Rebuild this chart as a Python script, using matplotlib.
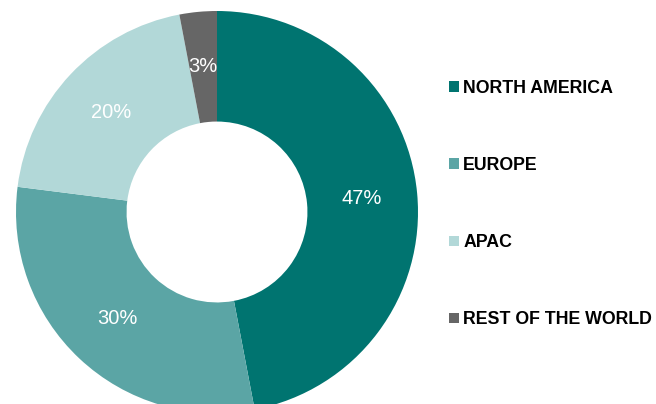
import matplotlib.pyplot as plt
from matplotlib.patches import Patch

regions = ['NORTH AMERICA', 'EUROPE', 'APAC', 'REST OF THE WORLD']
shares = [47, 30, 20, 3]
colors = ['#007470', '#5BA5A5', '#B2D8D8', '#666666']

plt.rcParams['font.family'] = ['Liberation Sans', 'DejaVu Sans']

fig = plt.figure(figsize=(6.56, 4.04), dpi=100)
# donut centre at about (217, 212) px, outer radius ~201 px
ax = fig.add_axes([16 / 656, -9 / 404, 402 / 656, 402 / 404])
wedges, _, pcts = ax.pie(shares, colors=colors, startangle=90, counterclock=False,
                         radius=1, autopct='%d%%', pctdistance=0.725,
                         wedgeprops=dict(width=0.55, linewidth=0),
                         textprops=dict(color='white', fontsize=14.5))
ax.set_xlim(-1, 1)
ax.set_ylim(-1, 1)
ax.set_aspect('equal')

handles = [Patch(facecolor=c, edgecolor='none') for c in colors]
fig.legend(handles, regions, loc='upper left', bbox_to_anchor=(449 / 656, 1 - 80 / 404),
           frameon=False, prop=dict(weight='bold', size=12.8),
           handlelength=0.55, handleheight=0.55, handletextpad=0.25,
           labelspacing=3.38, borderaxespad=0, borderpad=0)

fig.savefig('out.png', dpi=100)
